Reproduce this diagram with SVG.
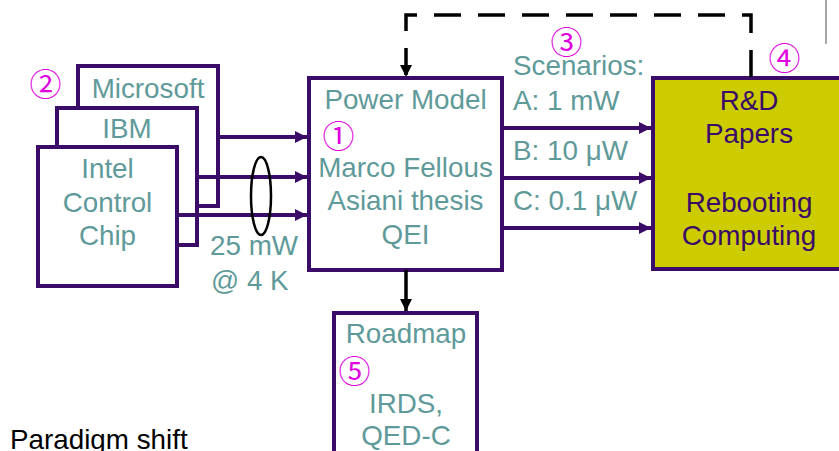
<svg xmlns="http://www.w3.org/2000/svg" width="839" height="451" viewBox="0 0 839 451">
<style>
.box{fill:#fff;stroke:#3b0b68;stroke-width:4}
.rd{fill:#cccc00;stroke:#3b0b68;stroke-width:4}
.t{font-family:"Liberation Sans",Arial,sans-serif;font-size:27.8px;fill:#5f9a9a}
.c{text-anchor:middle}
.p{fill:#3b0b68}
.k{fill:#000}
.n{font-family:"Noto Sans CJK JP","DejaVu Sans",sans-serif;font-size:32px;fill:#e000e0}
.pl{stroke:#3b0b68;stroke-width:4;fill:none;marker-end:url(#ap)}
.bl{stroke:#000;stroke-width:3.5;fill:none;marker-end:url(#ab)}
</style>
<defs>
<marker id="ap" markerUnits="userSpaceOnUse" markerWidth="13" markerHeight="13" refX="12" refY="6" orient="auto"><path d="M0,0 L12,6 L0,12 z" fill="#3b0b68"/></marker>
<marker id="ab" markerUnits="userSpaceOnUse" markerWidth="13" markerHeight="13" refX="12" refY="6" orient="auto"><path d="M0,0 L12,6 L0,12 z" fill="#000"/></marker>
</defs>
<rect width="839" height="451" fill="#fff"/>
<line x1="826" y1="0" x2="826" y2="44" stroke="#888" stroke-width="1.5"/>
<g id="microsoft"><rect class="box" x="78" y="66" width="140" height="140"/><text class="t c" x="148" y="98">Microsoft</text></g>
<g id="ibm"><rect class="box" x="57" y="108" width="140" height="137"/><text class="t c" x="127" y="138">IBM</text></g>
<g id="intel"><rect class="box" x="38" y="147" width="139" height="139"/><text class="t c" x="107.5" y="178">Intel</text><text class="t c" x="107.5" y="212">Control</text><text class="t c" x="107.5" y="245">Chip</text></g>
<g id="powermodel"><rect class="box" x="309" y="78" width="193" height="192"/><text class="t c" x="405.5" y="109">Power Model</text><text class="n" x="322.5" y="148">①</text><text class="t c" x="405.5" y="177">Marco Fellous</text><text class="t c" x="405.5" y="210">Asiani thesis</text><text class="t c" x="405.5" y="244">QEI</text></g>
<g id="rd"><rect class="rd" x="653" y="78" width="195" height="191"/><text class="t c p" x="749" y="110">R&amp;D</text><text class="t c p" x="749" y="143">Papers</text><text class="t c p" x="749" y="212">Rebooting</text><text class="t c p" x="749" y="245">Computing</text></g>
<g id="roadmap"><rect class="box" x="334" y="313" width="143" height="150"/><text class="t c" x="406" y="343">Roadmap</text><text class="n" x="338.5" y="383">⑤</text><text class="t c" x="406" y="413">IRDS,</text><text class="t c" x="406" y="445">QED-C</text></g>
<g id="labels">
<text class="n" x="29.5" y="96">②</text>
<text class="n" x="550.5" y="54">③</text>
<text class="n" x="768.5" y="70">④</text>
<text class="t" x="210" y="255">25 mW</text>
<text class="t" x="211" y="290">@ 4 K</text>
<text class="t" x="513" y="75">Scenarios:</text>
<text class="t" x="513" y="110">A: 1 mW</text>
<text class="t" x="513" y="160">B: 10 μW</text>
<text class="t" x="513" y="210">C: 0.1 μW</text>
<text class="t k" x="10" y="449">Paradigm shift</text>
</g>
<g id="connectors">
<path class="pl" d="M218,137 H307"/>
<path class="pl" d="M197,177 H307"/>
<path class="pl" d="M177,215 H307"/>
<ellipse cx="261" cy="196" rx="10" ry="39" fill="none" stroke="#000" stroke-width="2.5"/>
<path class="pl" d="M502,128 H651"/>
<path class="pl" d="M502,178 H651"/>
<path class="pl" d="M502,228 H651"/>
<path class="bl" d="M751,77 V15 H406 V77" stroke-dasharray="27 17"/>
<path class="bl" d="M406,270 V311"/>
</g>
</svg>
